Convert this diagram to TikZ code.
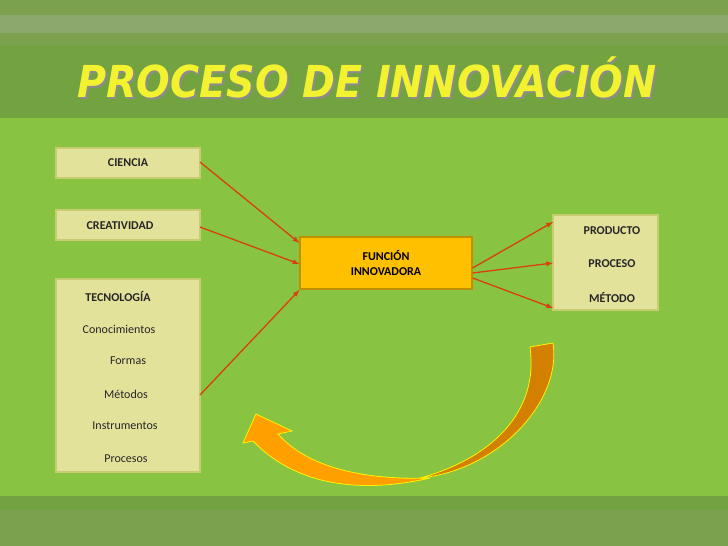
\documentclass[tikz,border=0pt]{standalone}
\usepackage{fontspec}
\setmainfont{Carlito}
\newfontfamily\titlefont{DejaVu Sans Condensed}
\usetikzlibrary{positioning}

\definecolor{bggreen}{HTML}{88C441}
\definecolor{bandgreen}{HTML}{73A341}
\definecolor{bandlight}{HTML}{8DA86C}
\definecolor{banddark}{HTML}{7BA04E}
\definecolor{boxfill}{HTML}{E3E29B}
\definecolor{boxline}{HTML}{C8CC70}
\definecolor{funcfill}{HTML}{FFC000}
\definecolor{funcline}{HTML}{BF9000}
\definecolor{arrowred}{HTML}{D9400F}
\definecolor{titleyellow}{HTML}{F2F230}
\definecolor{curvelight}{HTML}{FF9F00}
\definecolor{curvedark}{HTML}{D37F00}

\tikzset{
  infobox/.style={draw=boxline, line width=1.2pt, fill=boxfill},
  funcbox/.style={draw=funcline, line width=1.2pt, fill=funcfill, minimum width=172pt,
    minimum height=52pt, align=center, font=\fontsize{12}{15}\selectfont\bfseries},
  boxtext/.style={font=\fontsize{12}{14}\selectfont\bfseries, text=black!85},
  itemtext/.style={font=\fontsize{12}{14}\selectfont, text=black!85},
  flow/.style={draw=arrowred, line width=1.3pt, -latex},
  titletext/.style={font=\titlefont\bfseries\itshape\fontsize{44}{44}\selectfont},
}

\begin{document}
\begin{tikzpicture}[x=1pt,y=-1pt]

\useasboundingbox (0,0) rectangle (728,546);

% background and bands
\fill[bggreen] (0,0) rectangle (728,546);
\fill[banddark] (0,0) rectangle (728,15);
\fill[bandlight] (0,15) rectangle (728,33);
\fill[banddark] (0,33) rectangle (728,45);
\fill[bandgreen] (0,45) rectangle (728,118);
\fill[bandgreen] (0,496) rectangle (728,510);
\fill[banddark] (0,510) rectangle (728,546);

% title
\node[titletext, text=black!45] (titleshadow) at (369,79) {PROCESO DE INNOVACIÓN};
\node[titletext, text=titleyellow] (title) at (367,77) {PROCESO DE INNOVACIÓN};

% left boxes
\filldraw[infobox] (56,148) rectangle (200,178);
\filldraw[infobox] (56,210) rectangle (200,240);
\filldraw[infobox] (56,279) rectangle (200,472);
\node[boxtext] (ciencia) at (128,163) {CIENCIA};
\node[boxtext] (creatividad) at (120,226) {CREATIVIDAD};
\node[boxtext] (tecnologia) at (118,296) {TECNOLOGÍA};
\node[itemtext] (conoc) at (119,329) {Conocimientos};
\node[itemtext] (formas) at (128,361) {Formas};
\node[itemtext] (metodos) at (126,394) {Métodos};
\node[itemtext] (instr) at (125,426) {Instrumentos};
\node[itemtext] (procesos) at (126,459) {Procesos};

% central box
\node[funcbox] (funcion) at (386,263) {FUNCIÓN\\INNOVADORA};

% right box
\filldraw[infobox] (553,215) rectangle (658,310);
\node[boxtext] (producto) at (612,231) {PRODUCTO};
\node[boxtext] (proceso) at (612,264) {PROCESO};
\node[boxtext] (metodo) at (612,297) {MÉTODO};

% arrows
\coordinate (c1) at (200,162);
\coordinate (c2) at (200,227);
\coordinate (c3) at (200,395);
\draw[flow] (c1) -- (funcion.west |- 0,243);
\draw[flow] (c2) -- (funcion.west |- 0,264);
\draw[flow] (c3) -- (funcion.west |- 0,290);
\coordinate (r1) at (553,222);
\coordinate (r2) at (553,263);
\coordinate (r3) at (553,308);
\draw[flow] (funcion.east |- 0,268) -- (r1);
\draw[flow] (funcion.east |- 0,273) -- (r2);
\draw[flow] (funcion.east |- 0,278) -- (r3);

% curved return arrow
\filldraw[draw=yellow, line width=0.8pt, fill=curvedark]
  (530,347) -- (553,343) .. controls (562,400) and (500,470) .. (420,478)
  .. controls (480,462) and (540,420) .. (530,347) -- cycle;
\filldraw[draw=yellow, line width=0.8pt, fill=curvelight]
  (430,478) .. controls (370,492) and (300,490) .. (253,441)
  -- (243,443) -- (256,414) -- (292,431) -- (278,434)
  .. controls (310,470) and (370,480) .. (430,478) -- cycle;

\end{tikzpicture}
\end{document}
